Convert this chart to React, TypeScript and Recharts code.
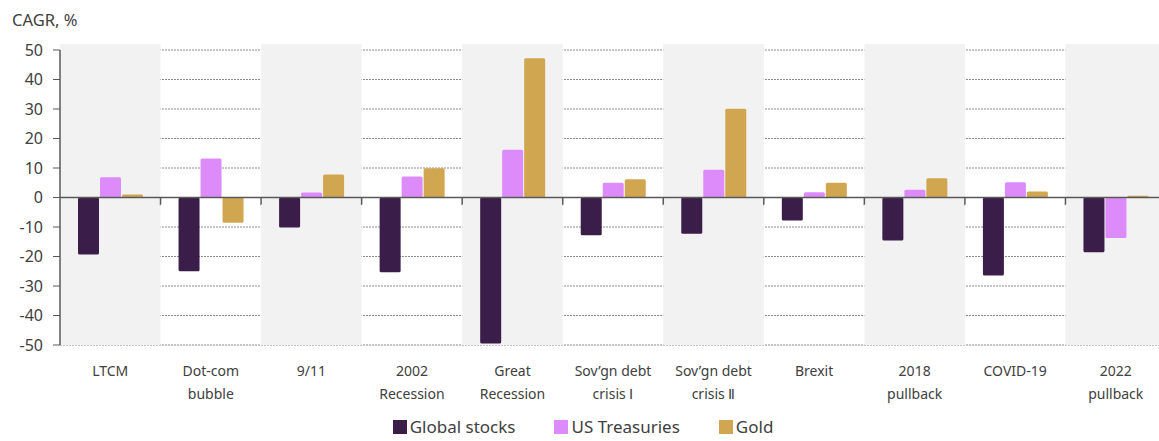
import React from "react"
import {
  BarChart,
  Bar,
  XAxis,
  YAxis,
  CartesianGrid,
  ReferenceArea,
  ReferenceLine,
  Legend,
} from "recharts"

const categories = [
  "LTCM",
  "Dot-com\nbubble",
  "9/11",
  "2002\nRecession",
  "Great\nRecession",
  "Sov’gn debt\ncrisis Ⅰ",
  "Sov’gn debt\ncrisis Ⅱ",
  "Brexit",
  "2018\npullback",
  "COVID-19",
  "2022\npullback",
]

const globalStocks = [-19.3, -25, -10.2, -25.3, -49.5, -12.8, -12.3, -7.8, -14.6, -26.4, -18.6]
const usTreasuries = [6.9, 13.2, 1.7, 7.1, 16.2, 5.0, 9.4, 1.8, 2.6, 5.2, -13.7]
const gold = [1.0, -8.6, 7.8, 9.9, 47.2, 6.2, 30.1, 5.0, 6.5, 2.0, 0.6]

const yTicks = [-50, -40, -30, -20, -10, 0, 10, 20, 30, 40, 50]
const shadedIdx = [0, 2, 4, 6, 8, 10]

const SERIES = [
  { key: "stocks", name: "Global stocks", color: "#3b1d4a" },
  { key: "treasuries", name: "US Treasuries", color: "#dd8bfb" },
  { key: "gold", name: "Gold", color: "#d1a650" },
]

const FONT = "'Noto Sans', 'Open Sans', sans-serif"
const TEXT = "#404040"
const AXIS = "#595959"

const CHART_W = 1166
const CHART_H = 447
const Y_AXIS_W = 60
const TOP = 50
const X_AXIS_H = 78
const LEGEND_H = 24
const TICK_UNITS = 2.4 // length of the boundary ticks below zero, in % units

// pixel sizes of one category band / one tick, for the edge-only dash pattern
const bandPx = (CHART_W - Y_AXIS_W) / categories.length
const plotH = CHART_H - TOP - X_AXIS_H - LEGEND_H
const tickPx = (TICK_UNITS / 100) * plotH
const edgeDash = `0 ${2 * bandPx + tickPx} ${tickPx} 0`

const data = categories.map((name, i) => ({
  name,
  stocks: globalStocks[i],
  treasuries: usTreasuries[i],
  gold: gold[i],
}))

function CategoryTick({ x, y, payload }: any) {
  const lines = String(payload.value).split("\n")
  return (
    <text x={x} y={y} textAnchor="middle" fill={TEXT} fontSize={14} fontFamily={FONT}>
      {lines.map((l, i) => (
        <tspan key={i} x={x} dy={23}>
          {l}
        </tspan>
      ))}
    </text>
  )
}

function LegendContent() {
  return (
    <div
      style={{
        display: "flex",
        justifyContent: "center",
        gap: 39,
        fontFamily: FONT,
        fontSize: 17,
        lineHeight: "20px",
        color: TEXT,
      }}
    >
      {SERIES.map((s) => (
        <div key={s.key} style={{ display: "flex", alignItems: "center", gap: 3 }}>
          <span style={{ width: 14, height: 14, background: s.color, display: "inline-block" }} />
          <span>{s.name}</span>
        </div>
      ))}
    </div>
  )
}

export default function App() {
  return (
    <div
      style={{
        position: "absolute",
        left: 0,
        top: 0,
        width: 1159,
        height: 441,
        overflow: "hidden",
        background: "#fff",
      }}
    >
      <div
        style={{
          position: "absolute",
          left: 12,
          top: 8,
          fontFamily: FONT,
          fontSize: 16.5,
          color: TEXT,
        }}
      >
        CAGR, %
      </div>
      <BarChart
        width={CHART_W}
        height={CHART_H}
        data={data}
        margin={{ top: TOP, right: 0, left: 0, bottom: 0 }}
        barSize={21}
        barGap={1}
      >
        {shadedIdx.map((i) => (
          <ReferenceArea
            key={i}
            x1={categories[i]}
            x2={categories[i]}
            y1={-50}
            y2={52}
            ifOverflow="visible"
            fill="#f2f2f2"
            fillOpacity={1}
            stroke="none"
          />
        ))}
        <CartesianGrid vertical={false} stroke="#8a8a8a" strokeDasharray="2 1" strokeWidth={1} />
        <XAxis
          dataKey="name"
          interval={0}
          tickLine={false}
          axisLine={false}
          height={X_AXIS_H}
          tick={<CategoryTick />}
        />
        <YAxis
          width={Y_AXIS_W}
          domain={[-50, 50]}
          ticks={yTicks}
          interval={0}
          tickSize={7}
          tickMargin={10}
          tickLine={{ stroke: AXIS }}
          axisLine={{ stroke: AXIS, strokeWidth: 1.5 }}
          tick={{ fill: TEXT, fontSize: 16, fontFamily: FONT }}
        />
        {SERIES.map((s) => (
          <Bar
            key={s.key}
            dataKey={s.key}
            name={s.name}
            fill={s.color}
            radius={1.5}
            isAnimationActive={false}
          />
        ))}
        {/* boundary ticks: only the left edge of each small area gets stroked */}
        {categories.slice(1).map((c) => (
          <ReferenceArea
            key={"t" + c}
            x1={c}
            x2={c}
            y1={-TICK_UNITS}
            y2={0}
            ifOverflow="visible"
            fill="none"
            fillOpacity={0}
            stroke={AXIS}
            strokeWidth={1.5}
            strokeDasharray={edgeDash}
          />
        ))}
        <ReferenceLine y={0} stroke={AXIS} strokeWidth={1.5} />
        <Legend
          verticalAlign="bottom"
          height={LEGEND_H}
          content={<LegendContent />}
          wrapperStyle={{ bottom: 6 }}
        />
      </BarChart>
    </div>
  )
}
